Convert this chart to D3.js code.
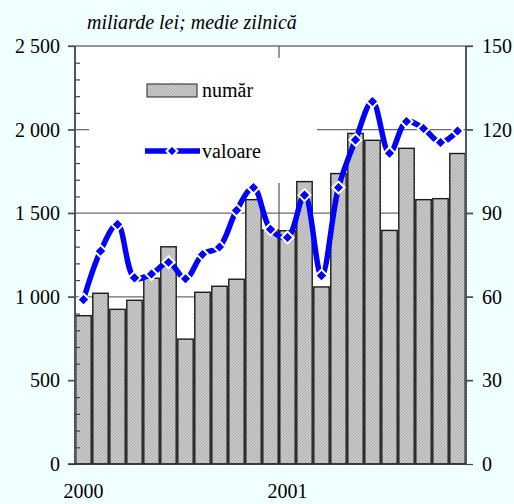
<!DOCTYPE html>
<html><head><meta charset="utf-8">
<script src="https://cdn.jsdelivr.net/npm/d3@7"></script>
<style>html,body{margin:0;padding:0;background:#F0FFFF;}svg{display:block;}</style>
</head><body>
<script>
// ---- data ----
const months = ["ian 2000","feb 2000","mar 2000","apr 2000","mai 2000","iun 2000","iul 2000","aug 2000","sep 2000","oct 2000","nov 2000","dec 2000",
                "ian 2001","feb 2001","mar 2001","apr 2001","mai 2001","iun 2001","iul 2001","aug 2001","sep 2001","oct 2001","nov 2001"];
const numar = [887,1021,925,979,1111,1299,747,1027,1063,1105,1581,1401,1395,1689,1059,1737,1977,1936,1397,1888,1581,1587,1857];
const valoare = [59.0,76.4,86.0,66.8,68.2,72.4,66.5,75.2,77.9,91.0,99.2,84.2,81.3,96.5,67.6,99.2,116.3,130.1,111.5,122.9,120.4,115.4,119.5];
const leftTicks = [0,500,1000,1500,2000,2500];
const rightTicks = [0,30,60,90,120,150];
const yearLabels = [{i:0,t:"2000"},{i:12,t:"2001"}];
const title = "miliarde lei; medie zilnică";
const legendLabels = ["număr","valoare"];

// ---- layout ----
const W=514,H=504, L=75, R=466, T=46, B=464;
const FONT = "'Liberation Serif','Times New Roman',serif";
const svg = d3.select("body").append("svg").attr("width",W).attr("height",H);
const defs = svg.append("defs");
const pat = defs.append("pattern").attr("id","hatch").attr("patternUnits","userSpaceOnUse").attr("width",3).attr("height",3);
pat.append("rect").attr("width",3).attr("height",3).attr("fill","#cbcbcb");
pat.append("path").attr("d","M0,3L3,0M-1,1L1,-1M2,4L4,2").attr("stroke","#a6a6a6").attr("stroke-width",0.9);

const x = d3.scaleBand().domain(d3.range(months.length)).range([L,R]).paddingInner(0).paddingOuter(0);
const yL = d3.scaleLinear().domain([0,2500]).range([B,T]);
const yR = d3.scaleLinear().domain([0,150]).range([B,T]);

// plot background
svg.append("rect").attr("x",L).attr("y",T).attr("width",R-L).attr("height",B-T).attr("fill","#ffffff");

// gridlines
svg.append("g").selectAll("line").data(leftTicks.filter(d=>d>0)).join("line")
  .attr("x1",L-7).attr("x2",R+7).attr("y1",d=>yL(d)).attr("y2",d=>yL(d))
  .attr("stroke",d=>d===2500?"#333":"#6a6a6a").attr("stroke-width",1.2);
// year separator
const sepX = x(12);
svg.append("line").attr("x1",sepX).attr("x2",sepX).attr("y1",T).attr("y2",B).attr("stroke","#555").attr("stroke-width",1.2);

// legend box (covers grid)
svg.append("rect").attr("x",89).attr("y",58).attr("width",228).attr("height",125).attr("fill","#ffffff");

// bars
svg.append("g").selectAll("rect").data(numar).join("rect")
  .attr("x",(d,i)=>x(i)+0.8).attr("width",x.bandwidth()-1.6)
  .attr("y",d=>yL(d)).attr("height",d=>B-yL(d))
  .attr("fill","url(#hatch)").attr("stroke","#1a1a1a").attr("stroke-width",1.4);

// axes
const fmt = d3.formatLocale({decimal:",",thousands:" ",grouping:[3],currency:["",""]}).format(",d");
const axL = svg.append("g").attr("transform",`translate(${L},0)`)
  .call(d3.axisLeft(yL).tickValues(leftTicks).tickFormat(fmt).tickSize(7).tickPadding(8));
const axLminor = svg.append("g").attr("transform",`translate(${L},0)`)
  .call(d3.axisRight(yL).tickValues(d3.range(0,2501,100).filter(d=>d%500)).tickSize(5).tickFormat(""));
axLminor.select(".domain").remove();
const axR = svg.append("g").attr("transform",`translate(${R},0)`)
  .call(d3.axisRight(yR).tickValues(rightTicks).tickSize(7).tickPadding(9));
[axL,axR,axLminor].forEach(g=>{
  g.selectAll(".domain").attr("stroke","#555").attr("stroke-width",2);
  g.selectAll(".tick line").attr("stroke","#444").attr("stroke-width",1.2);
  g.selectAll("text").attr("font-family",FONT).attr("font-size",20).attr("fill","#000");
});
axL.select(".domain").attr("d",`M0,${T}V${B}`);
axR.select(".domain").attr("d",`M0,${T}V${B}`);
// bottom axis line
svg.append("line").attr("x1",L-7).attr("x2",R).attr("y1",B).attr("y2",B).attr("stroke","#333").attr("stroke-width",1.5);

// year labels
svg.append("g").selectAll("text").data(yearLabels).join("text")
  .attr("x",d=>x(d.i)+x.bandwidth()/2).attr("y",498).attr("text-anchor","middle")
  .attr("font-family",FONT).attr("font-size",20).text(d=>d.t);

// line
const line = d3.line().x((d,i)=>x(i)+x.bandwidth()/2).y(d=>yR(d)).curve(d3.curveCatmullRom.alpha(0.5));
svg.append("path").datum(valoare).attr("d",line).attr("fill","none").attr("stroke","#0000ff").attr("stroke-width",5.5);
const diamond = s=>`M0,${-s}L${s},0L0,${s}L${-s},0Z`;
svg.append("g").selectAll("path").data(valoare).join("path")
  .attr("transform",(d,i)=>`translate(${x(i)+x.bandwidth()/2},${yR(d)})`)
  .attr("d",diamond(6)).attr("fill","#0000ff").attr("stroke","#ffffff").attr("stroke-width",2);

// title
svg.append("text").attr("x",87).attr("y",29).attr("font-family",FONT).attr("font-style","italic").attr("font-size",20).text(title);

// legend
svg.append("rect").attr("x",147).attr("y",84).attr("width",50).attr("height",13).attr("fill","url(#hatch)").attr("stroke","#222").attr("stroke-width",1);
svg.append("text").attr("x",202).attr("y",97).attr("font-family",FONT).attr("font-size",20).text(legendLabels[0]);
svg.append("line").attr("x1",145).attr("x2",200).attr("y1",151).attr("y2",151).attr("stroke","#0000ff").attr("stroke-width",5.5);
svg.append("path").attr("transform","translate(172,151)").attr("d",diamond(5.5)).attr("fill","#0000ff").attr("stroke","#fff").attr("stroke-width",2);
svg.append("text").attr("x",202).attr("y",158).attr("font-family",FONT).attr("font-size",20).text(legendLabels[1]);
</script>
</body></html>
